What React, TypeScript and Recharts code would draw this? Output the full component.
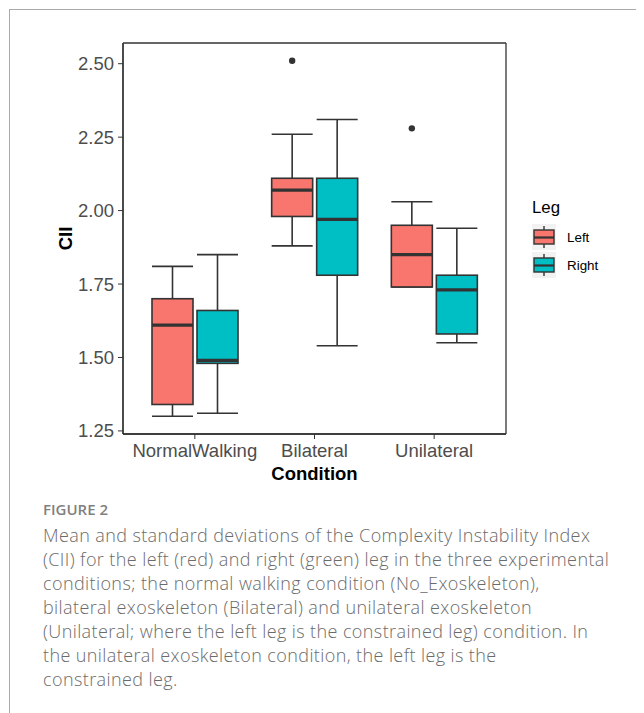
import React from 'react';
import { ComposedChart, Bar, XAxis, YAxis, CartesianGrid } from 'recharts';

const CATEGORIES = ['NormalWalking', 'Bilateral', 'Unilateral'];

// Left leg (red)
const LEFT_MIN = [1.30, 1.88, 1.74];
const LEFT_Q1 = [1.34, 1.98, 1.74];
const LEFT_MEDIAN = [1.61, 2.07, 1.85];
const LEFT_Q3 = [1.70, 2.11, 1.95];
const LEFT_MAX = [1.81, 2.26, 2.03];
const LEFT_OUTLIERS = [[], [2.51], [2.28]];

// Right leg (teal)
const RIGHT_MIN = [1.31, 1.54, 1.55];
const RIGHT_Q1 = [1.48, 1.78, 1.58];
const RIGHT_MEDIAN = [1.49, 1.97, 1.73];
const RIGHT_Q3 = [1.66, 2.11, 1.78];
const RIGHT_MAX = [1.85, 2.31, 1.94];
const RIGHT_OUTLIERS = [[], [], []];

const Y_TICKS = [1.25, 1.5, 1.75, 2.0, 2.25, 2.5];
const Y_DOMAIN = [1.2395, 2.5705];

const LEGEND_TITLE = 'Leg';
const LEGEND_ITEMS = ['Left', 'Right'];

const CAPTION_LABEL = 'FIGURE 2';
const CAPTION_LINES = [
    'Mean and standard deviations of the Complexity Instability Index',
    '(CII) for the left (red) and right (green) leg in the three experimental',
    'conditions; the normal walking condition (No_Exoskeleton),',
    'bilateral exoskeleton (Bilateral) and unilateral exoskeleton',
    '(Unilateral; where the left leg is the constrained leg) condition. In',
    'the unilateral exoskeleton condition, the left leg is the',
    'constrained leg.',
];

const RED = '#F8766D';
const TEAL = '#00BFC4';
const LINE = '#333333';
const AXIS_FONT = '"Liberation Sans", Arial, sans-serif';

const data = CATEGORIES.map((category, i) => ({
    category,
    left: { min: LEFT_MIN[i], q1: LEFT_Q1[i], median: LEFT_MEDIAN[i], q3: LEFT_Q3[i], max: LEFT_MAX[i], outliers: LEFT_OUTLIERS[i] },
    right: { min: RIGHT_MIN[i], q1: RIGHT_Q1[i], median: RIGHT_MEDIAN[i], q3: RIGHT_Q3[i], max: RIGHT_MAX[i], outliers: RIGHT_OUTLIERS[i] },
}));

// the bar is a range [min, max]; everything else is placed with the same linear scale
function BoxShape(props: any) {
    const { x, y, width, height, payload, side, fill } = props;
    const s = payload[side];
    const top = Math.min(y, y + height);
    const bottom = Math.max(y, y + height);
    const ppu = (bottom - top) / (s.max - s.min);
    const py = (v: number) => top + (s.max - v) * ppu;
    const cx = x + width / 2;
    return (
        <g>
            <line x1={cx} x2={cx} y1={py(s.max)} y2={py(s.min)} stroke={LINE} strokeWidth={1.6} />
            <line x1={x} x2={x + width} y1={py(s.max)} y2={py(s.max)} stroke={LINE} strokeWidth={1.6} />
            <line x1={x} x2={x + width} y1={py(s.min)} y2={py(s.min)} stroke={LINE} strokeWidth={1.6} />
            <rect x={x} y={py(s.q3)} width={width} height={py(s.q1) - py(s.q3)} fill={fill} stroke={LINE} strokeWidth={1.6} />
            <line x1={x} x2={x + width} y1={py(s.median)} y2={py(s.median)} stroke={LINE} strokeWidth={3.2} />
            {s.outliers.map((o: number, k: number) => (
                <circle key={k} cx={cx} cy={py(o)} r={3.2} fill={LINE} />
            ))}
        </g>
    );
}

function LegendKey({ fill }: { fill: string }) {
    return (
        <svg width={24} height={26} style={{ display: 'block' }}>
            <rect x={0} y={0} width={24} height={26} fill="#f2f2f2" />
            <line x1={12} x2={12} y1={2} y2={24} stroke={LINE} strokeWidth={1.4} />
            <rect x={2} y={6} width={20} height={14} fill={fill} stroke={LINE} strokeWidth={1.4} />
            <line x1={2} x2={22} y1={13.5} y2={13.5} stroke={LINE} strokeWidth={2.2} />
        </svg>
    );
}

export default function App() {
    const tickStyle = { fill: '#4D4D4D', fontSize: 18.5, fontFamily: AXIS_FONT };
    return (
        <div style={{ position: 'relative', width: 644, height: 713, margin: '-8px 0 0 -8px', background: '#fff', overflow: 'hidden' }}>
            {/* page frame */}
            <div style={{ position: 'absolute', left: 9, top: 9, width: 640, height: 710, borderTop: '1.5px solid #aaa', borderLeft: '1.5px solid #aaa' }} />

            <ComposedChart width={644} height={500} data={data} margin={{ top: 43, right: 138, left: 63, bottom: 20 }}
                barSize={41} barGap={4} style={{ position: 'absolute', left: 0, top: 0 }}>
                {/* panel border */}
                <CartesianGrid stroke={LINE} strokeWidth={1.3}
                    horizontalCoordinatesGenerator={({ offset }: any) => [offset.top, offset.top + offset.height]}
                    verticalCoordinatesGenerator={({ offset }: any) => [offset.left, offset.left + offset.width]} />
                <XAxis dataKey="category" type="category" padding={{ left: 12, right: 12 }} height={46}
                    tick={tickStyle} tickSize={5} tickMargin={5} tickLine={{ stroke: LINE }} axisLine={{ stroke: LINE, strokeWidth: 1.3 }}
                    label={{ value: 'Condition', position: 'insideBottom', offset: 0, fill: '#000', fontSize: 18.5, fontWeight: 700, fontFamily: AXIS_FONT }} />
                <YAxis type="number" domain={Y_DOMAIN} ticks={Y_TICKS} allowDataOverflow width={60}
                    tickFormatter={(v: number) => v.toFixed(2)}
                    tick={tickStyle} tickSize={5} tickMargin={4} tickLine={{ stroke: LINE }} axisLine={{ stroke: LINE, strokeWidth: 1.3 }}
                    label={{ value: 'CII', angle: -90, position: 'insideLeft', offset: 2, fill: '#000', fontSize: 18.5, fontWeight: 700, fontFamily: AXIS_FONT, style: { textAnchor: 'middle' } }} />
                <Bar dataKey={(d: any) => [d.left.min, d.left.max]} isAnimationActive={false}
                    shape={(p: any) => <BoxShape {...p} side="left" fill={RED} />} />
                <Bar dataKey={(d: any) => [d.right.min, d.right.max]} isAnimationActive={false}
                    shape={(p: any) => <BoxShape {...p} side="right" fill={TEAL} />} />
            </ComposedChart>

            {/* Legend */}
            <div style={{ position: 'absolute', left: 532, top: 198, fontFamily: AXIS_FONT, color: '#000' }}>
                <div style={{ fontSize: 16.8, lineHeight: '20px', marginBottom: 6 }}>{LEGEND_TITLE}</div>
                {LEGEND_ITEMS.map((name, i) => (
                    <div key={name} style={{ display: 'flex', alignItems: 'center', height: 26, marginBottom: 2 }}>
                        <LegendKey fill={i === 0 ? RED : TEAL} />
                        <span style={{ fontSize: 13.4, marginLeft: 11 }}>{name}</span>
                    </div>
                ))}
            </div>

            {/* Caption */}
            <div style={{ position: 'absolute', left: 43, top: 499, fontFamily: '"Open Sans", sans-serif', fontSize: 15, fontWeight: 600, color: '#808080', lineHeight: '20px' }}>
                {CAPTION_LABEL}
            </div>
            <div style={{ position: 'absolute', left: 43, top: 523, fontFamily: '"Open Sans", sans-serif', fontSize: 18, letterSpacing: 0.4, fontWeight: 300, color: '#6b6b6b', lineHeight: '24px', whiteSpace: 'nowrap' }}>
                {CAPTION_LINES.map((l, i) => (
                    <div key={i}>{l}</div>
                ))}
            </div>
        </div>
    );
}
